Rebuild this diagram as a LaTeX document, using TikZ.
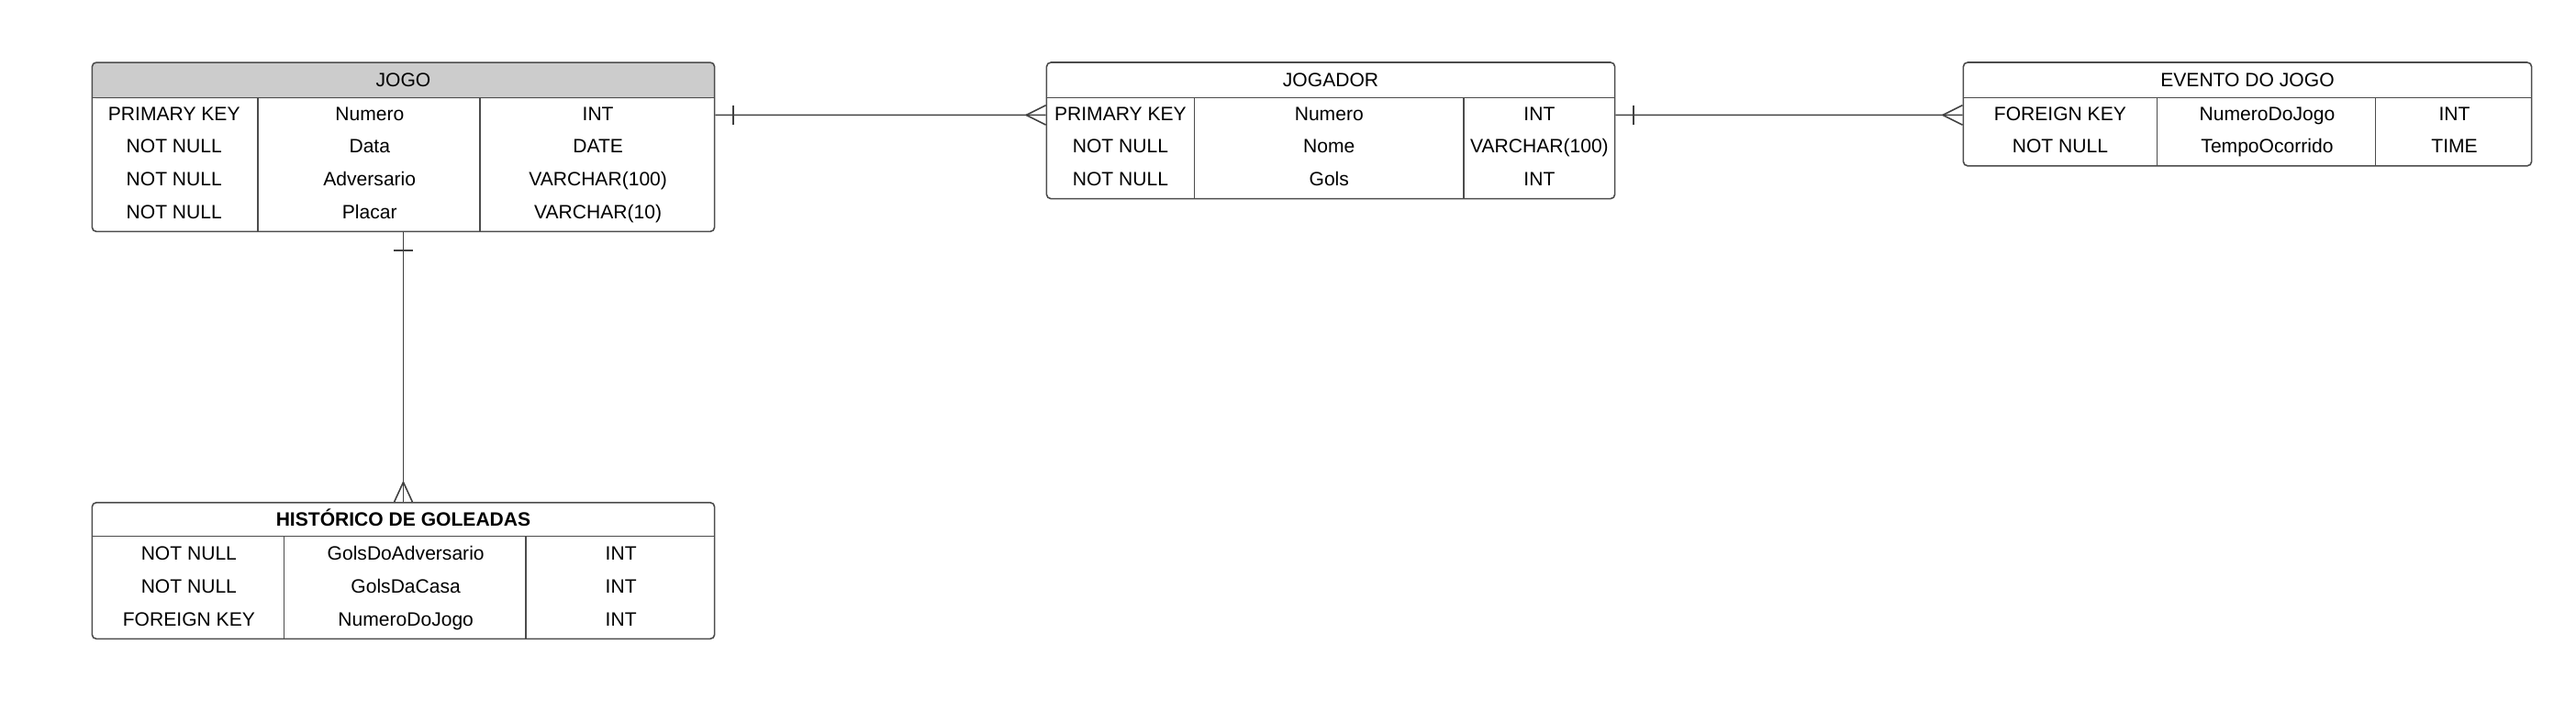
\documentclass[tikz,border=0pt]{standalone}
\usepackage{fontspec}
\setmainfont{Liberation Sans}
\usetikzlibrary{calc}
\usetikzlibrary{positioning}
\definecolor{headgray}{HTML}{CCCCCC}

\begin{document}
\begin{tikzpicture}[
    x=0.02cm, y=-0.02cm,
    entity/.style={
        draw=black!70,
        rounded corners=1.5pt,
        line width=0.5pt,
        inner sep=0pt},
    cell/.style={
        inner sep=0pt,
        text height=4.8pt,
        text depth=0pt,
        font=\fontsize{6.7}{8}\selectfont},
    rule/.style={-,draw=black!70,line width=0.5pt},
    relline/.style={-,draw=black!75,line width=0.5pt}
]
\useasboundingbox (0,0) rectangle (1568,439.6);

% JOGO
\fill[headgray,rounded corners=1.5pt] (56,38) rectangle (435,60);
\fill[headgray] (56,50) rectangle (435,60);
\node[entity,minimum width=7.58cm,minimum height=2.06cm] (jogo) at (245.5,89.5) {};
\draw[rule] ($(jogo.north west)+(0,22)$) -- ($(jogo.north east)+(0,22)$);
\draw[rule] (157,60) -- (157,141);
\draw[rule] (292,60) -- (292,141);
\node[cell] (jogo-title) at (245.5,48.5) {JOGO};
\foreach \k/\n/\t [count=\i] in {PRIMARY KEY/Numero/INT,NOT NULL/Data/DATE,NOT NULL/Adversario/VARCHAR(100),NOT NULL/Placar/VARCHAR(10)}{
    \node[cell] (jogo-k\i) at (106,{49+20*\i}) {\k};
    \node[cell] (jogo-n\i) at (225,{49+20*\i}) {\n};
    \node[cell] (jogo-t\i) at (364,{49+20*\i}) {\t};
}

% JOGADOR
\node[entity,minimum width=6.92cm,minimum height=1.66cm] (jogador) at (810,79.5) {};
\draw[rule] ($(jogador.north west)+(0,22)$) -- ($(jogador.north east)+(0,22)$);
\draw[rule] (727,60) -- (727,121);
\draw[rule] (891,60) -- (891,121);
\node[cell] (jogador-title) at (810,48.5) {JOGADOR};
\foreach \k/\n/\t [count=\i] in {PRIMARY KEY/Numero/INT,NOT NULL/Nome/VARCHAR(100),NOT NULL/Gols/INT}{
    \node[cell] (jogador-k\i) at (682,{49+20*\i}) {\k};
    \node[cell] (jogador-n\i) at (809,{49+20*\i}) {\n};
    \node[cell] (jogador-t\i) at (937,{49+20*\i}) {\t};
}

% EVENTO DO JOGO
\node[entity,minimum width=6.92cm,minimum height=1.26cm] (evento) at (1368,69.5) {};
\draw[rule] ($(evento.north west)+(0,22)$) -- ($(evento.north east)+(0,22)$);
\draw[rule] (1313,60) -- (1313,101);
\draw[rule] (1446,60) -- (1446,101);
\node[cell] (evento-title) at (1368,48.5) {EVENTO DO JOGO};
\foreach \k/\n/\t [count=\i] in {FOREIGN KEY/NumeroDoJogo/INT,NOT NULL/TempoOcorrido/TIME}{
    \node[cell] (evento-k\i) at (1254,{49+20*\i}) {\k};
    \node[cell] (evento-n\i) at (1380,{49+20*\i}) {\n};
    \node[cell] (evento-t\i) at (1494,{49+20*\i}) {\t};
}

% HISTORICO DE GOLEADAS
\node[entity,minimum width=7.58cm,minimum height=1.66cm] (historico) at (245.5,347.5) {};
\draw[rule] ($(historico.north west)+(0,21)$) -- ($(historico.north east)+(0,21)$);
\draw[rule] (173,327) -- (173,389);
\draw[rule] (320,327) -- (320,389);
\node[cell,font=\fontsize{6.7}{8}\selectfont\bfseries] (historico-title) at (245.5,316) {HISTÓRICO DE GOLEADAS};
\foreach \k/\n/\t [count=\i] in {NOT NULL/GolsDoAdversario/INT,NOT NULL/GolsDaCasa/INT,FOREIGN KEY/NumeroDoJogo/INT}{
    \node[cell] (historico-k\i) at (115,{317+20*\i}) {\k};
    \node[cell] (historico-n\i) at (247,{317+20*\i}) {\n};
    \node[cell] (historico-t\i) at (378,{317+20*\i}) {\t};
}

% relations
\coordinate (jogo-r) at ($(jogo.north east)+(0,32.5)$);
\coordinate (jogador-l) at ($(jogador.north west)+(0,32.5)$);
\coordinate (jogador-r) at ($(jogador.north east)+(0,32.5)$);
\coordinate (evento-l) at ($(evento.north west)+(0,32.5)$);
\coordinate (jogo-b) at (jogo.south);
\coordinate (historico-t) at (historico.north);

\path[relline]
    (jogo-r) edge (jogador-l)
    ($(jogo-r)+(11,-6)$) edge ($(jogo-r)+(11,6)$)
    ($(jogador-l)+(-12,0)$) edge ($(jogador-l)+(0,-6)$)
    ($(jogador-l)+(-12,0)$) edge ($(jogador-l)+(0,6)$)
    (jogador-r) edge (evento-l)
    ($(jogador-r)+(11,-6)$) edge ($(jogador-r)+(11,6)$)
    ($(evento-l)+(-12,0)$) edge ($(evento-l)+(0,-6)$)
    ($(evento-l)+(-12,0)$) edge ($(evento-l)+(0,6)$)
    (jogo-b) edge (historico-t)
    ($(jogo-b)+(-6,11)$) edge ($(jogo-b)+(6,11)$)
    ($(historico-t)+(0,-12)$) edge ($(historico-t)+(-5.5,0)$)
    ($(historico-t)+(0,-12)$) edge ($(historico-t)+(5.5,0)$);

\end{tikzpicture}
\end{document}
